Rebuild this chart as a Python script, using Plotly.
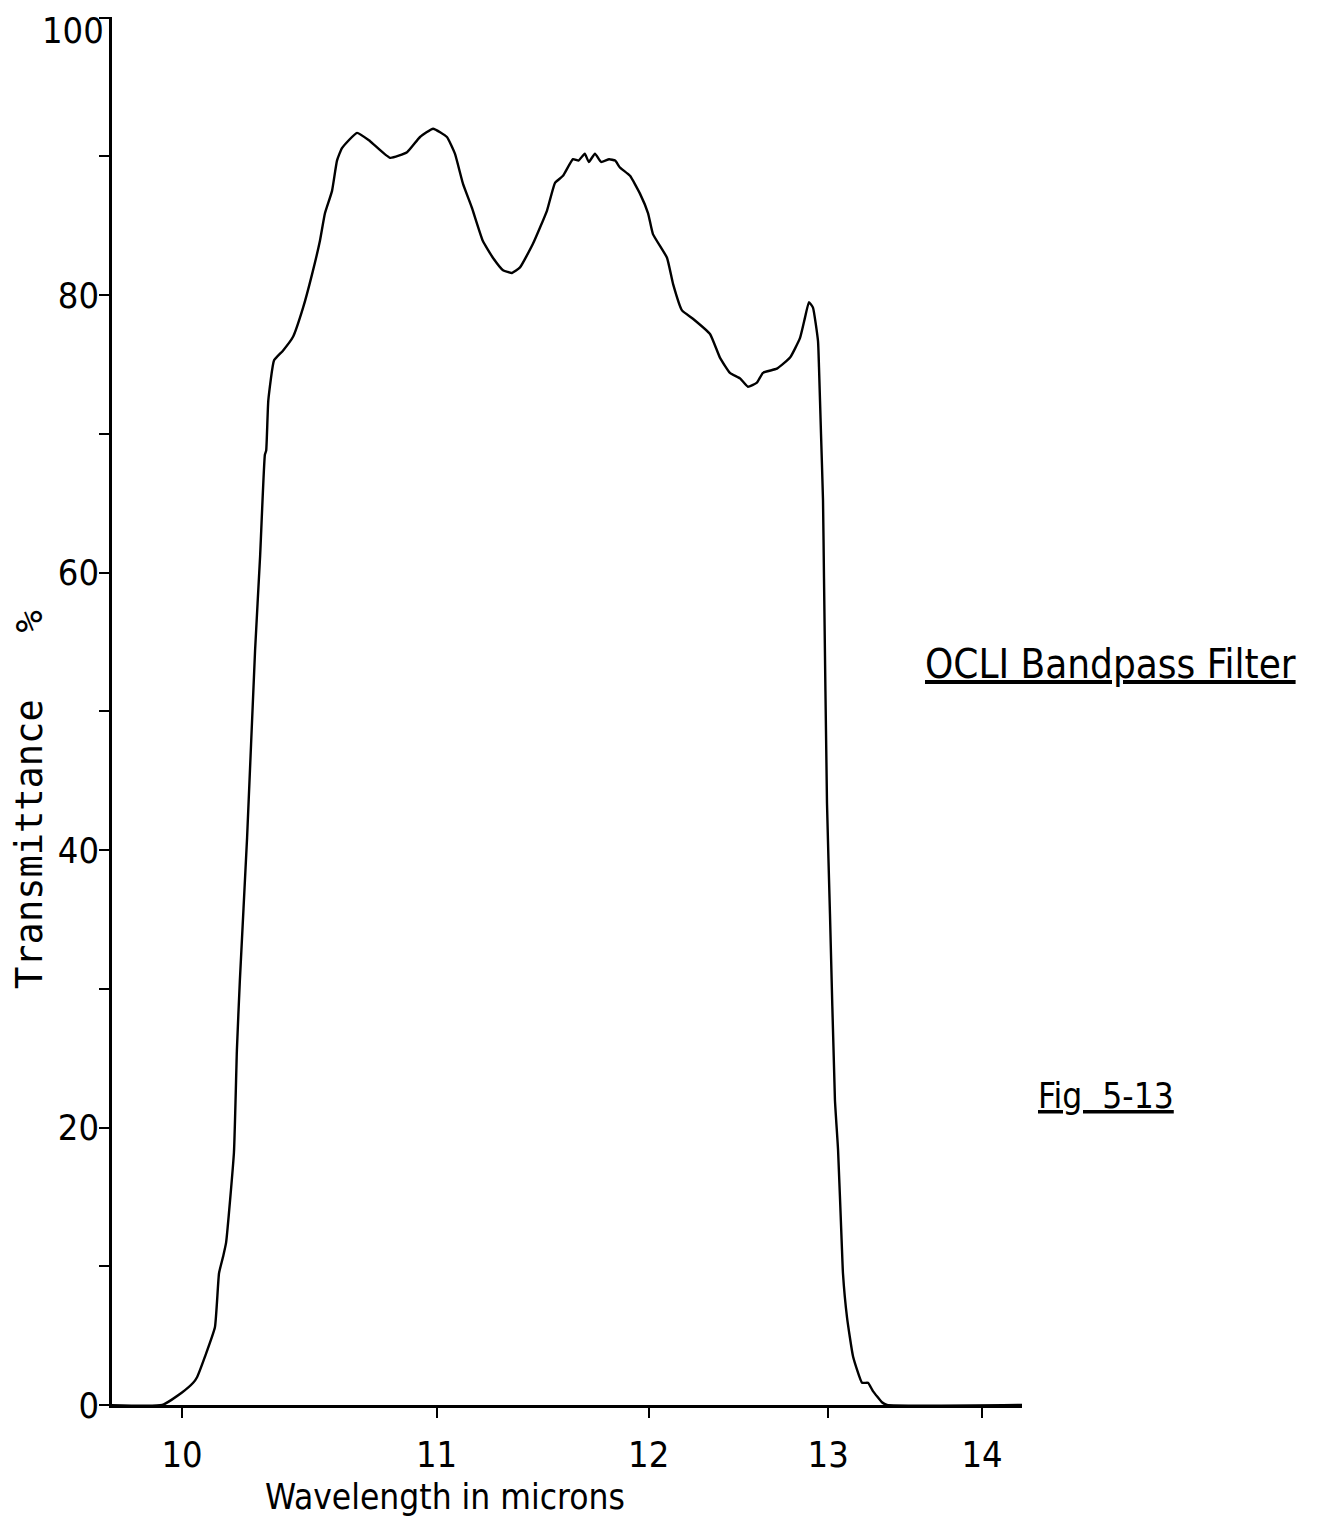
import plotly.graph_objects as go

# Wavelength (microns) and transmittance (%)
wavelength_um = [
    9.74, 9.93, 10.00, 10.04, 10.054, 10.083, 10.119, 10.134, 10.149, 10.160,
    10.189, 10.200, 10.211, 10.238, 10.268, 10.287, 10.305, 10.310, 10.318, 10.340,
    10.374, 10.413, 10.452, 10.487, 10.518, 10.538, 10.566, 10.586, 10.606, 10.667,
    10.720, 10.803, 10.874, 10.929, 10.985, 11.045, 11.080, 11.116, 11.155, 11.204,
    11.249, 11.295, 11.336, 11.373, 11.433, 11.499, 11.537, 11.575, 11.623, 11.650,
    11.680, 11.700, 11.730, 11.760, 11.800, 11.830, 11.854, 11.905, 11.956, 11.997,
    12.022, 12.095, 12.127, 12.174, 12.232, 12.324, 12.378, 12.433, 12.489, 12.533,
    12.584, 12.618, 12.698, 12.774, 12.832, 12.862, 12.885, 12.909, 12.939, 12.945,
    12.957, 12.969, 12.975, 12.993, 13.011, 13.041, 13.060, 13.084, 13.090, 13.115,
    13.152, 13.208, 13.245, 13.276, 13.333, 13.365, 14.286,
]
transmittance = [
    0.0, 0.0, 0.9, 1.6, 2.0, 3.5, 5.6, 9.5, 10.7, 11.7,
    18.2, 25.6, 30.6, 40.9, 54.4, 61.2, 68.5, 68.8, 72.4, 75.3,
    76.0, 77.0, 79.1, 81.5, 83.9, 85.9, 87.5, 89.7, 90.6, 91.7,
    91.1, 89.9, 90.3, 91.4, 92.0, 91.4, 90.2, 88.0, 86.3, 83.9,
    82.7, 81.8, 81.6, 82.0, 83.7, 86.1, 88.1, 88.6, 89.8, 89.7,
    90.2, 89.6, 90.2, 89.6, 89.8, 89.7, 89.2, 88.6, 87.3, 85.9,
    84.4, 82.7, 80.8, 78.9, 78.3, 77.2, 75.5, 74.4, 74.0, 73.4,
    73.7, 74.4, 74.7, 75.5, 76.9, 78.4, 79.5, 79.1, 76.7, 74.8,
    70.0, 65.2, 59.6, 43.4, 35.4, 22.0, 18.4, 11.2, 9.5, 6.3,
    3.5, 1.6, 1.6, 1.0, 0.2, 0.0, 0.0,
]

x_tick_um = [10, 11, 12, 13, 14]
y_tick_vals = [0, 10, 20, 30, 40, 50, 60, 70, 80, 90, 100]
y_tick_text = ["0", "", "20", "", "40", "", "60", "", "80", "", ""]
y_top_label = "100"

# The chart axis is linear in wavenumber (cm^-1), labelled in microns
wavenumber = [1e4 / w for w in wavelength_um]
x_tick_pos = [1e4 / w for w in x_tick_um]

FONT = "DejaVu Sans Condensed, DejaVu Sans, sans-serif"
MONO = "DejaVu Sans Mono, monospace"

fig = go.Figure()
fig.add_trace(go.Scatter(
    x=wavenumber, y=transmittance, mode="lines",
    line=dict(color="black", width=2.4, shape="spline", smoothing=0.4),
    hoverinfo="skip", showlegend=False,
))

fig.update_layout(
    width=1312, height=1513,
    margin=dict(l=104, r=298, t=9, b=116, autoexpand=False),
    paper_bgcolor="white", plot_bgcolor="white",
    font=dict(family=FONT, size=36, color="black"),
    showlegend=False,
    xaxis=dict(
        range=[1025, 700], tickmode="array", tickvals=x_tick_pos,
        ticktext=[str(v) for v in x_tick_um],
        showline=True, linecolor="black", linewidth=3,
        ticks="outside", ticklen=10, tickwidth=2, tickcolor="black",
        showgrid=False, zeroline=False, ticklabelstandoff=6,
        tickfont=dict(family=FONT, size=36), automargin=False,
    ),
    yaxis=dict(
        range=[0, 100.05], tickmode="array", tickvals=y_tick_vals, ticktext=y_tick_text,
        showline=True, linecolor="black", linewidth=2.5,
        ticks="outside", ticklen=10, tickwidth=2, tickcolor="black",
        showgrid=False, zeroline=False, ticklabelstandoff=-7,
        ticklabeloverflow="allow", automargin=False,
        tickfont=dict(family=FONT, size=36),
    ),
    annotations=[
        dict(text=y_top_label, xref="paper", yref="y", x=0, y=y_tick_vals[-1],
             xanchor="right", yanchor="middle", xshift=-6, yshift=-13,
             showarrow=False, font=dict(family=FONT, size=36)),
        dict(text="Wavelength in microns", xref="paper", yref="paper",
             x=0.366, y=-0.066, xanchor="center", yanchor="middle",
             showarrow=False, font=dict(family=FONT, size=35)),
        dict(text="Transmittance   %", xref="paper", yref="paper",
             x=-0.09, y=0.436, xanchor="center", yanchor="middle", textangle=-90,
             showarrow=False, font=dict(family=MONO, size=37)),
        dict(text="OCLI Bandpass Filter", xref="paper", yref="paper",
             x=1.097, y=0.534, xanchor="center", yanchor="middle",
             showarrow=False, font=dict(family=FONT, size=40, lineposition="under")),
        dict(text="Fig  5-13", xref="paper", yref="paper",
             x=1.092, y=0.2226, xanchor="center", yanchor="middle",
             showarrow=False, font=dict(family=FONT, size=35, lineposition="under")),
    ],
)

fig.write_html("out.html")
